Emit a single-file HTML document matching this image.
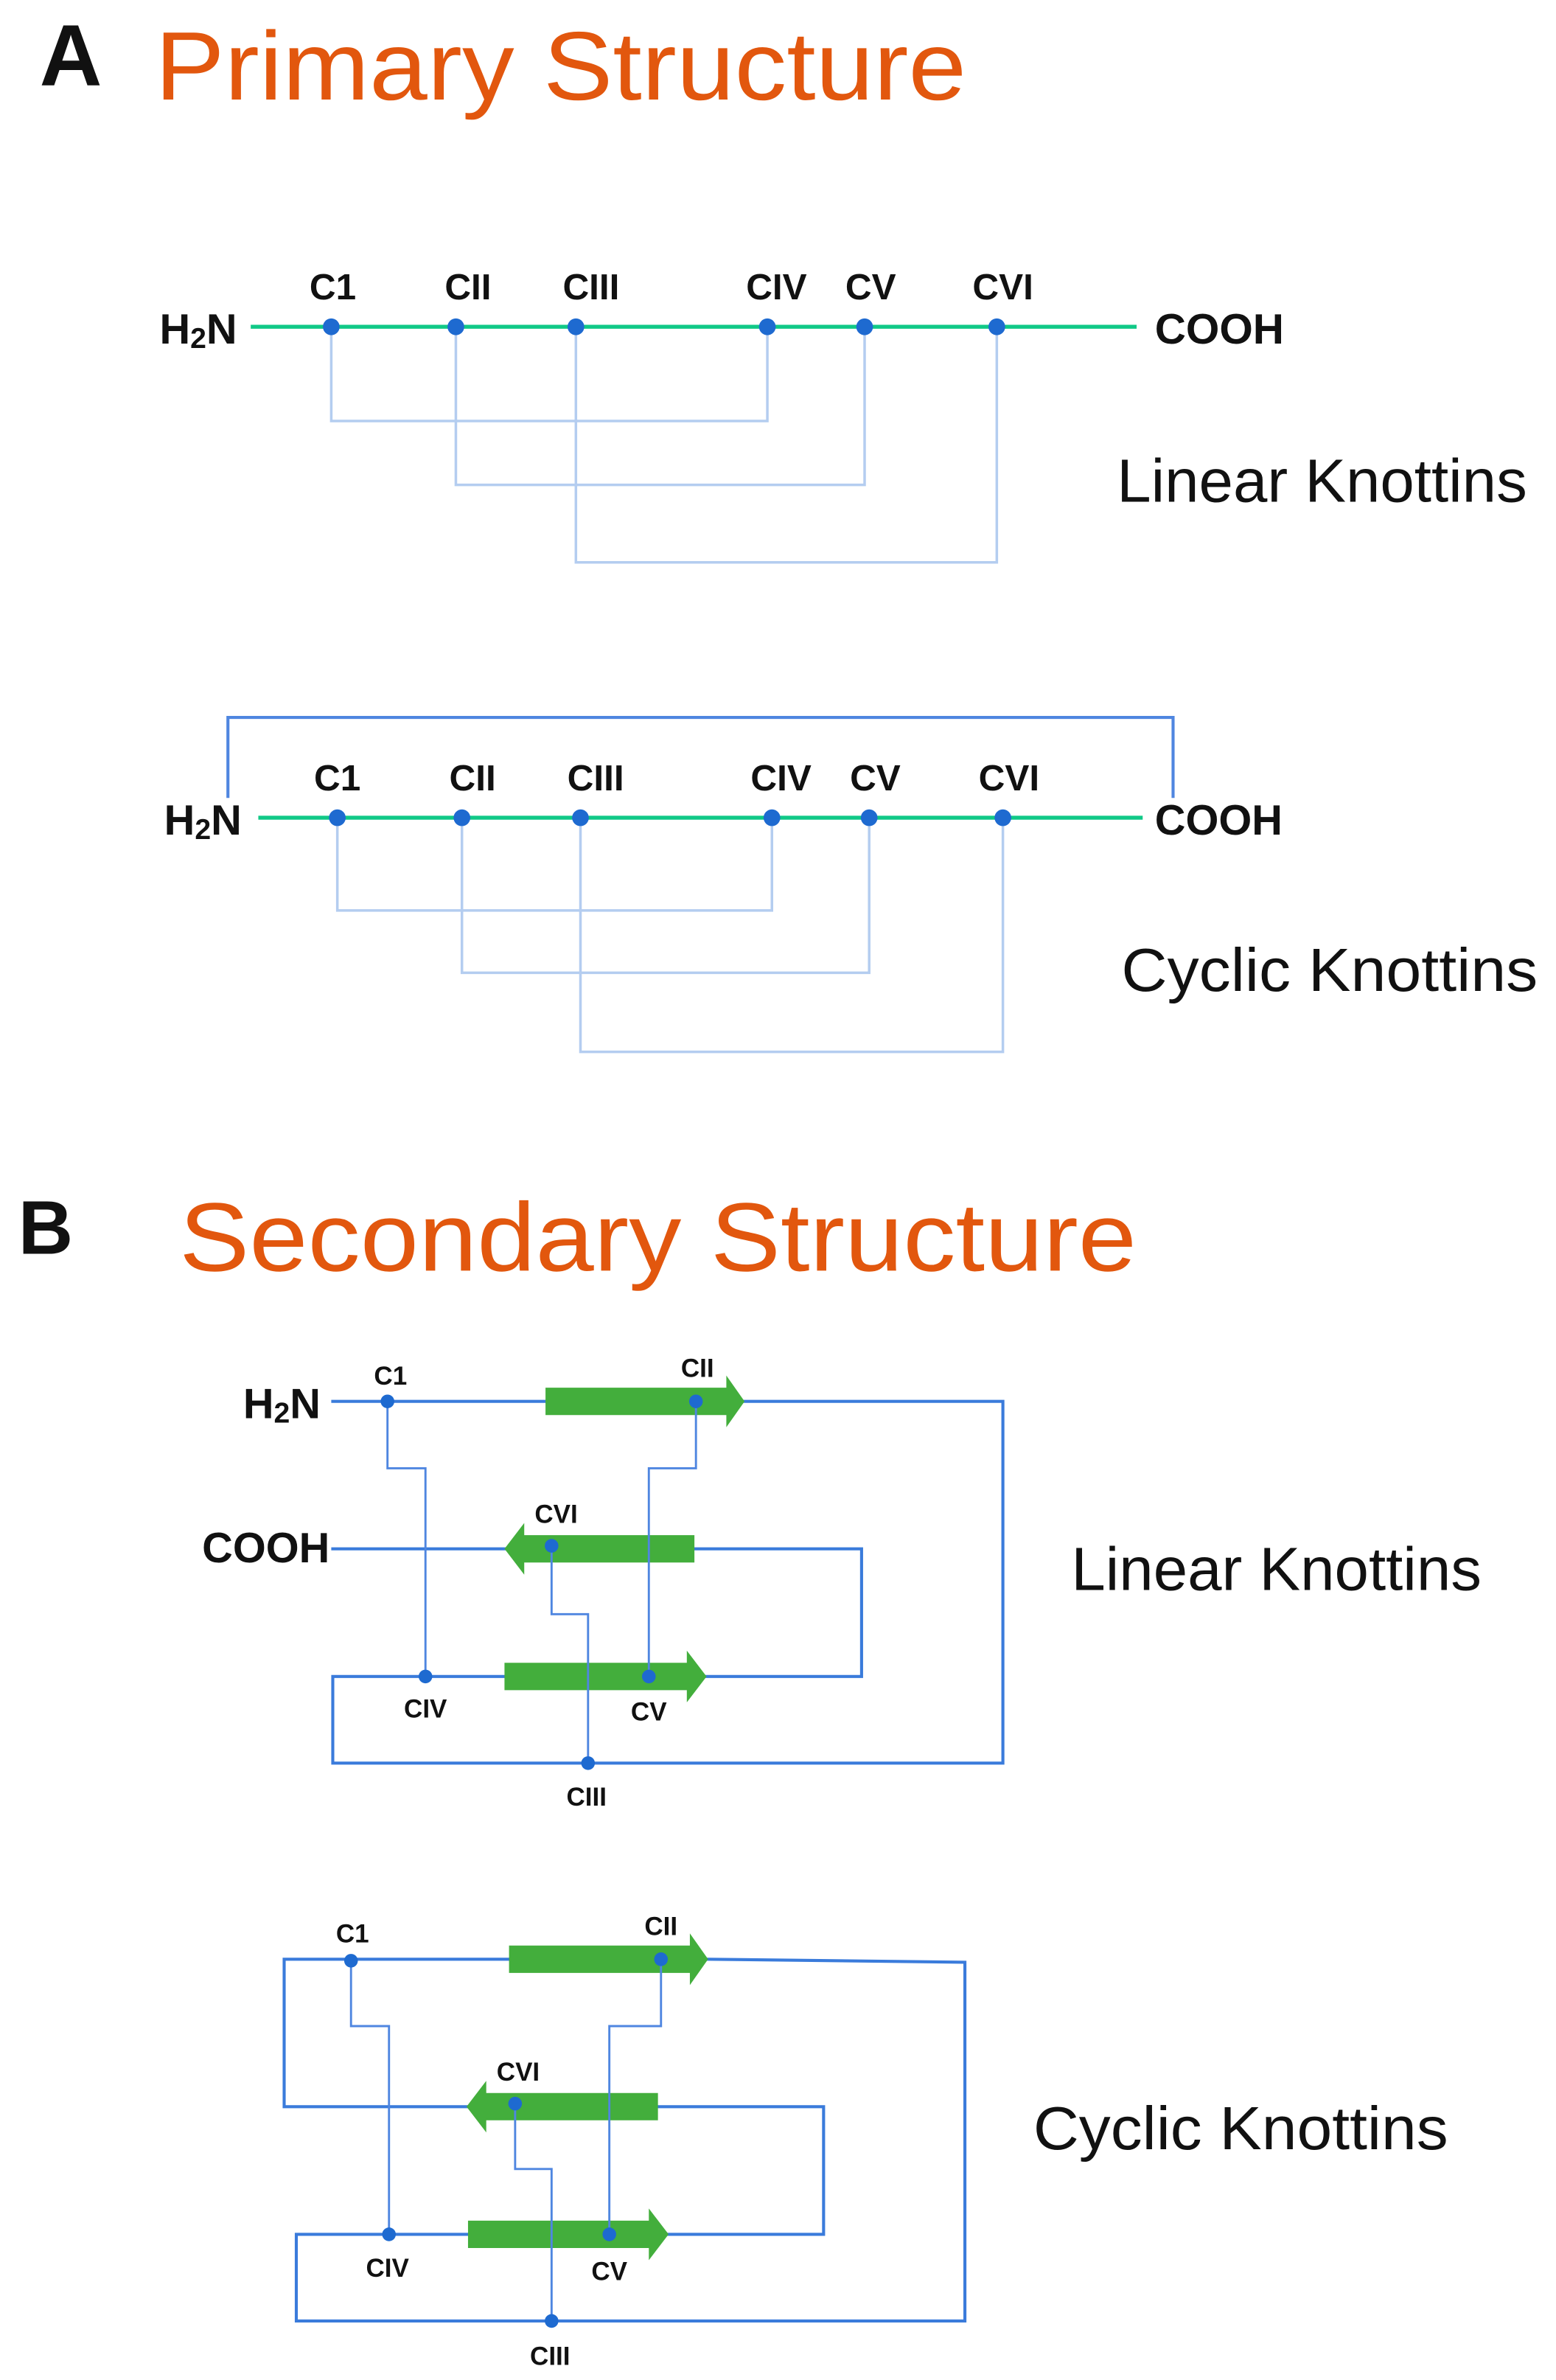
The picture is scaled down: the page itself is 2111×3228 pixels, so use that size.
<!DOCTYPE html>
<html><head><meta charset="utf-8"><style>
html,body{margin:0;padding:0;background:#fff;}
svg{display:block;}
text{font-family:"Liberation Sans",sans-serif;}
.b{font-weight:bold;fill:#111;}
.t{fill:#E2570E;}
.k{fill:#111;}
</style></head><body>
<svg width="2111" height="3228" viewBox="0 0 1024 1565.84" preserveAspectRatio="none" xmlns="http://www.w3.org/2000/svg">
<rect width="1024" height="1566" fill="#fff"/>
<!-- A -->
<text x="26" y="56" class="b" font-size="57">A</text>
<text x="102" y="65.5" class="t" font-size="64" textLength="534" lengthAdjust="spacingAndGlyphs">Primary Structure</text>

<!-- Linear primary -->
<g fill="none" stroke="#B4CDF0" stroke-width="1.7">
<path d="M218 215 V277 H505 V215"/>
<path d="M300 215 V319 H569 V215"/>
<path d="M379 215 V370 H656 V215"/>
</g>
<line x1="165" y1="215" x2="748" y2="215" stroke="#10C987" stroke-width="2.6"/>
<g fill="#1E6AD0">
<circle cx="218" cy="215" r="5.5"/><circle cx="300" cy="215" r="5.5"/><circle cx="379" cy="215" r="5.5"/>
<circle cx="505" cy="215" r="5.5"/><circle cx="569" cy="215" r="5.5"/><circle cx="656" cy="215" r="5.5"/>
</g>
<g class="b" font-size="24" text-anchor="middle">
<text x="219" y="197">C1</text><text x="308" y="197">CII</text><text x="389" y="197">CIII</text>
<text x="511" y="197">CIV</text><text x="573" y="197">CV</text><text x="660" y="197">CVI</text>
</g>
<text x="105" y="226" class="b" font-size="28">H<tspan font-size="19" dy="3">2</tspan><tspan dy="-3">N</tspan></text>
<text x="760" y="226" class="b" font-size="28" textLength="85" lengthAdjust="spacingAndGlyphs">COOH</text>
<text x="735" y="330" class="k" font-size="40" textLength="270" lengthAdjust="spacingAndGlyphs">Linear Knottins</text>

<!-- Cyclic primary -->
<path d="M150 525 V472 H772 V525" fill="none" stroke="#4F86E0" stroke-width="2"/>
<g fill="none" stroke="#B4CDF0" stroke-width="1.7">
<path d="M222 538 V599 H508 V538"/>
<path d="M304 538 V640 H572 V538"/>
<path d="M382 538 V692 H660 V538"/>
</g>
<line x1="170" y1="538" x2="752" y2="538" stroke="#10C987" stroke-width="2.6"/>
<g fill="#1E6AD0">
<circle cx="222" cy="538" r="5.5"/><circle cx="304" cy="538" r="5.5"/><circle cx="382" cy="538" r="5.5"/>
<circle cx="508" cy="538" r="5.5"/><circle cx="572" cy="538" r="5.5"/><circle cx="660" cy="538" r="5.5"/>
</g>
<g class="b" font-size="24" text-anchor="middle">
<text x="222" y="520">C1</text><text x="311" y="520">CII</text><text x="392" y="520">CIII</text>
<text x="514" y="520">CIV</text><text x="576" y="520">CV</text><text x="664" y="520">CVI</text>
</g>
<text x="108" y="549" class="b" font-size="28">H<tspan font-size="19" dy="3">2</tspan><tspan dy="-3">N</tspan></text>
<text x="760" y="549" class="b" font-size="28" textLength="84" lengthAdjust="spacingAndGlyphs">COOH</text>
<text x="738" y="652" class="k" font-size="40" textLength="274" lengthAdjust="spacingAndGlyphs">Cyclic Knottins</text>

<!-- B -->
<text x="12" y="825" class="b" font-size="50">B</text>
<text x="118" y="836" class="t" font-size="64" textLength="630" lengthAdjust="spacingAndGlyphs">Secondary Structure</text>

<!-- Linear secondary -->
<g fill="none" stroke="#3A7BDB" stroke-width="2">
<path d="M218 922 H660 V1160 H219 V1103 H567 V1019 H218"/>
</g>
<g fill="#43AE3C">
<polygon points="359,913 478,913 478,905 490,922 478,939 478,931 359,931"/>
<polygon points="457,1010 345,1010 345,1002 332,1019 345,1036 345,1028 457,1028"/>
<polygon points="332,1094 452,1094 452,1086 465,1103 452,1120 452,1112 332,1112"/>
</g>
<g fill="none" stroke="#4F86E0" stroke-width="1.4">
<path d="M255 922 V966 H280 V1103"/>
<path d="M458 922 V966 H427 V1103"/>
<path d="M363 1017 V1062 H387 V1160"/>
</g>
<g fill="#1E6AD0">
<circle cx="255" cy="922" r="4.5"/><circle cx="458" cy="922" r="4.5"/><circle cx="363" cy="1017" r="4.5"/>
<circle cx="280" cy="1103" r="4.5"/><circle cx="427" cy="1103" r="4.5"/><circle cx="387" cy="1160" r="4.5"/>
</g>
<g class="b" font-size="17" text-anchor="middle">
<text x="257" y="911">C1</text><text x="459" y="906">CII</text><text x="366" y="1002">CVI</text>
<text x="280" y="1130">CIV</text><text x="427" y="1132">CV</text><text x="386" y="1188">CIII</text>
</g>
<text x="160" y="933" class="b" font-size="28">H<tspan font-size="19" dy="3">2</tspan><tspan dy="-3">N</tspan></text>
<text x="133" y="1028" class="b" font-size="28" textLength="84" lengthAdjust="spacingAndGlyphs">COOH</text>
<text x="705" y="1046" class="k" font-size="40" textLength="270" lengthAdjust="spacingAndGlyphs">Linear Knottins</text>

<!-- Cyclic secondary -->
<g fill="none" stroke="#3A7BDB" stroke-width="2">
<path d="M187 1289 H466 L635 1291 V1527 H195 V1470 H542 V1386 H187 Z"/>
</g>
<g fill="#43AE3C">
<polygon points="335,1280 454,1280 454,1272 466,1289 454,1306 454,1298 335,1298"/>
<polygon points="433,1377 320,1377 320,1369 307,1386 320,1403 320,1395 433,1395"/>
<polygon points="308,1461 427,1461 427,1453 440,1470 427,1487 427,1479 308,1479"/>
</g>
<g fill="none" stroke="#4F86E0" stroke-width="1.4">
<path d="M231 1290 V1333 H256 V1470"/>
<path d="M435 1289 V1333 H401 V1470"/>
<path d="M339 1384 V1427 H363 V1527"/>
</g>
<g fill="#1E6AD0">
<circle cx="231" cy="1290" r="4.5"/><circle cx="435" cy="1289" r="4.5"/><circle cx="339" cy="1384" r="4.5"/>
<circle cx="256" cy="1470" r="4.5"/><circle cx="401" cy="1470" r="4.5"/><circle cx="363" cy="1527" r="4.5"/>
</g>
<g class="b" font-size="17" text-anchor="middle">
<text x="232" y="1278">C1</text><text x="435" y="1273">CII</text><text x="341" y="1369">CVI</text>
<text x="255" y="1498">CIV</text><text x="401" y="1500">CV</text><text x="362" y="1556">CIII</text>
</g>
<text x="680" y="1414" class="k" font-size="40" textLength="273" lengthAdjust="spacingAndGlyphs">Cyclic Knottins</text>
</svg>
</body></html>
